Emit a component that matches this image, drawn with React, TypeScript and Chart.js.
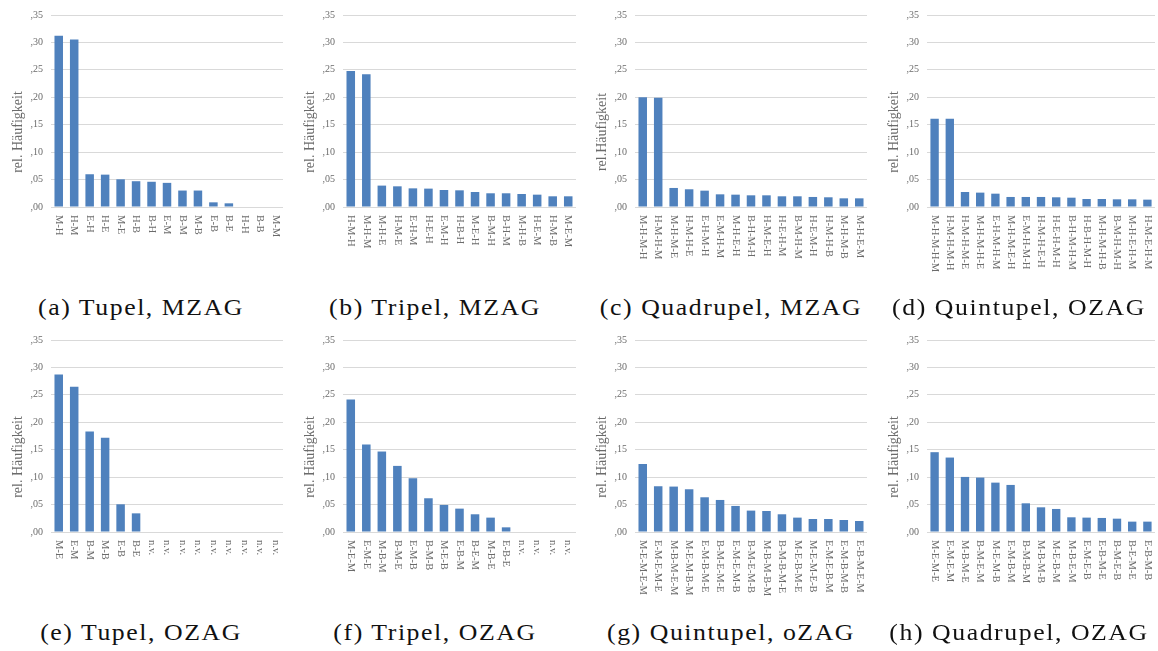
import React, { useEffect, useRef } from "react";
import { Chart, registerables } from "chart.js";

Chart.register(...registerables);

// ---- data ----
const labelsA = ["M-H", "H-M", "E-H", "H-E", "M-E", "H-B", "B-H", "E-M", "B-M", "M-B", "E-B", "B-E", "H-H", "B-B", "M-M"];
const valuesA = [0.312, 0.3055, 0.0597, 0.059, 0.0505, 0.047, 0.046, 0.044, 0.03, 0.03, 0.0085, 0.0067, 0, 0, 0];

const labelsB = ["H-M-H", "M-H-M", "M-H-E", "H-M-E", "E-H-M", "H-E-H", "E-M-H", "H-B-H", "M-E-H", "B-M-H", "B-H-M", "M-H-B", "H-E-M", "H-M-B", "M-E-M"];
const valuesB = [0.248, 0.242, 0.039, 0.0377, 0.034, 0.0335, 0.031, 0.0304, 0.0274, 0.025, 0.025, 0.0237, 0.0225, 0.0195, 0.0195];

const labelsC = ["M-H-M-H", "H-M-H-M", "M-H-M-E", "H-M-H-E", "E-H-M-H", "E-M-H-M", "M-H-E-H", "B-H-M-H", "H-M-E-H", "H-E-H-M", "B-M-H-M", "H-E-M-H", "H-M-H-B", "M-H-M-B", "M-H-E-M"];
const valuesC = [0.2, 0.199, 0.0347, 0.0323, 0.0298, 0.0231, 0.0225, 0.0213, 0.0213, 0.0195, 0.0195, 0.0183, 0.0177, 0.0158, 0.0158];

const labelsD = ["M-H-M-H-M", "H-M-H-M-H", "H-M-H-M-E", "M-H-M-H-E", "E-H-M-H-M", "M-H-M-E-H", "E-M-H-M-H", "H-M-H-E-H", "H-E-H-M-H", "B-H-M-H-M", "H-B-H-M-H", "M-H-M-H-B", "B-M-H-M-H", "M-H-E-H-M", "H-M-E-H-M"];
const valuesD = [0.161, 0.161, 0.0274, 0.0262, 0.0243, 0.0183, 0.0183, 0.0183, 0.0177, 0.017, 0.0146, 0.0146, 0.014, 0.014, 0.0134];

const labelsE = ["M-E", "E-M", "B-M", "M-B", "E-B", "B-E", "n.v.", "n.v.", "n.v.", "n.v.", "n.v.", "n.v.", "n.v.", "n.v.", "n.v."];
const valuesE = [0.287, 0.265, 0.183, 0.172, 0.0505, 0.034, 0, 0, 0, 0, 0, 0, 0, 0, 0];

const labelsF = ["M-E-M", "E-M-E", "M-B-M", "B-M-E", "E-M-B", "B-M-B", "M-E-B", "E-B-M", "B-E-M", "M-B-E", "E-B-E", "n.v.", "n.v.", "n.v.", "n.v."];
const valuesF = [0.2416, 0.1595, 0.1467, 0.1205, 0.098, 0.0615, 0.0493, 0.0426, 0.0323, 0.0262, 0.0085, 0, 0, 0, 0];

const labelsG = ["M-E-M-E-M", "E-M-E-M-E", "M-B-M-E-M", "M-E-M-B-M", "E-M-B-M-E", "B-M-E-M-E", "E-M-E-M-B", "B-M-E-M-B", "M-B-M-B-M", "B-M-B-M-E", "M-E-B-M-E", "M-E-M-E-B", "E-M-E-B-M", "E-M-B-M-B", "E-B-M-E-M"];
const valuesG = [0.124, 0.0834, 0.0828, 0.0779, 0.0633, 0.0584, 0.0475, 0.039, 0.0383, 0.0323, 0.0262, 0.0237, 0.0237, 0.0219, 0.0201];

const labelsH = ["M-E-M-E", "E-M-E-M", "M-B-M-E", "B-M-E-M", "M-E-M-B", "E-M-B-M", "B-M-B-M", "M-B-M-B", "M-E-B-M", "M-B-E-M", "E-M-E-B", "E-B-M-E", "B-M-E-B", "B-E-M-E", "E-B-M-B"];
const valuesH = [0.1455, 0.1357, 0.1004, 0.0992, 0.09, 0.0858, 0.0523, 0.045, 0.042, 0.0268, 0.0262, 0.0256, 0.0243, 0.0189, 0.0189];

const yMin = 0;
const yMax = 0.35;
const yStep = 0.05;

const captions = [
  "(a) Tupel, MZAG",
  "(b) Tripel, MZAG",
  "(c) Quadrupel, MZAG",
  "(d) Quintupel, OZAG",
  "(e) Tupel, OZAG",
  "(f) Tripel, OZAG",
  "(g) Quintupel, oZAG",
  "(h) Quadrupel, OZAG",
];
const yTitles = [
  "rel. Häufigkeit",
  "rel. Häufigkeit",
  "rel.Häufigkeit",
  "rel. Häufigkeit",
  "rel. Häufigkeit",
  "rel. Häufigkeit",
  "rel. Häufigkeit",
  "rel. Häufigkeit",
];
const panelLabels = [labelsA, labelsB, labelsC, labelsD, labelsE, labelsF, labelsG, labelsH];
const panelValues = [valuesA, valuesB, valuesC, valuesD, valuesE, valuesF, valuesG, valuesH];

// ---- styling / layout ----
const BAR_COLOR = "#4F81BD";
const GRID_COLOR = "#D9D9D9";
const TEXT_GRAY = "#6b6b6b";
const SERIF = "'Liberation Serif', 'Times New Roman', serif";

const COL_LEFT = [0, 290, 580, 868];
const COL_WIDTH = 290;
const ROW_TOP = [0, 325];
const CANVAS_H = 280;
const PLOT_LEFT = [51, 53, 55, 59];
const RIGHT_PAD = [7, 4, 3, 3];
const CAPTION_SHIFT = [-4, 0, 6, 6];

const textPlugin = {
  id: "rotatedText",
  afterDraw(chart: any) {
    const opts = chart.options.plugins.rotatedText || {};
    const ctx = chart.ctx;
    const xs = chart.scales.x;
    const area = chart.chartArea;
    const labels: string[] = chart.data.labels;
    ctx.save();
    ctx.fillStyle = TEXT_GRAY;
    ctx.font = "10.5px " + SERIF;
    ctx.textAlign = "left";
    ctx.textBaseline = "middle";
    labels.forEach((lab, i) => {
      const x = xs.getPixelForTick(i);
      ctx.save();
      ctx.translate(x, area.bottom + 8);
      ctx.rotate(Math.PI / 2);
      ctx.fillText(lab, 0, 0);
      ctx.restore();
    });
    // y title
    ctx.font = "14px " + SERIF;
    ctx.textAlign = "center";
    ctx.translate(area.left - 33, (area.top + area.bottom) / 2 + 21);
    ctx.rotate(-Math.PI / 2);
    ctx.fillText(opts.title || "", 0, 0);
    ctx.restore();
  },
};

function Panel({ idx }: { idx: number }) {
  const ref = useRef<HTMLCanvasElement | null>(null);
  const col = idx % 4;
  const row = Math.floor(idx / 4);
  useEffect(() => {
    if (!ref.current) return;
    const chart = new Chart(ref.current, {
      type: "bar",
      data: {
        labels: panelLabels[idx],
        datasets: [
          {
            data: panelValues[idx],
            backgroundColor: BAR_COLOR,
            borderWidth: 0,
            barPercentage: 0.55,
            categoryPercentage: 1,
          },
        ],
      },
      options: {
        animation: false,
        responsive: false,
        maintainAspectRatio: false,
        layout: { padding: { top: 15, right: RIGHT_PAD[col], bottom: 0, left: 0 } },
        plugins: {
          legend: { display: false },
          tooltip: { enabled: false },
          rotatedText: { title: yTitles[idx] },
        } as any,
        scales: {
          x: {
            grid: { display: false },
            border: { display: false },
            ticks: { display: false },
            afterFit: (s: any) => {
              s.height = 73;
            },
          },
          y: {
            min: yMin,
            max: yMax,
            grid: { color: GRID_COLOR, lineWidth: 1, drawTicks: false },
            border: { display: false },
            ticks: {
              stepSize: yStep,
              padding: 8,
              color: TEXT_GRAY,
              font: { family: SERIF, size: 10 },
              callback: (v: any) => "," + Number(v).toFixed(2).split(".")[1],
            },
            afterFit: (s: any) => {
              s.width = PLOT_LEFT[col];
            },
          },
        },
      },
      plugins: [textPlugin],
    });
    return () => chart.destroy();
  }, [idx]);

  return (
    <div
      style={{
        position: "absolute",
        left: COL_LEFT[col],
        top: ROW_TOP[row],
        width: COL_WIDTH,
        height: 320,
      }}
    >
      <canvas ref={ref} width={COL_WIDTH} height={CANVAS_H} style={{ display: "block" }} />
      <div
        style={{
          position: "absolute",
          left: CAPTION_SHIFT[col],
          top: 294,
          width: COL_WIDTH,
          textAlign: "center",
          fontFamily: SERIF,
          fontSize: 23,
          letterSpacing: 1.4,
          transform: "scaleX(1.12)",
          color: "#111",
          whiteSpace: "nowrap",
          lineHeight: "28px",
        }}
      >
        {captions[idx]}
      </div>
    </div>
  );
}

export default function App() {
  return (
    <div style={{ position: "absolute", left: 0, top: 0, width: 1158, height: 651, background: "#fff" }}>
      {[0, 1, 2, 3, 4, 5, 6, 7].map((i) => (
        <Panel key={i} idx={i} />
      ))}
    </div>
  );
}
